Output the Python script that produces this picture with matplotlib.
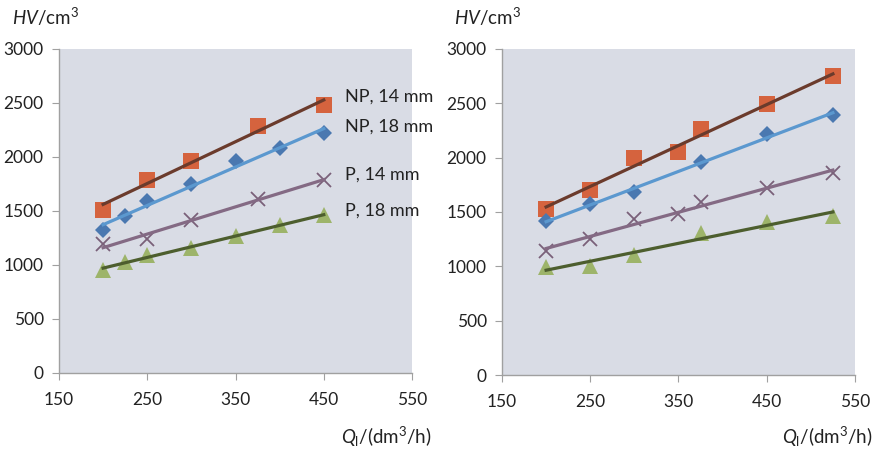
import numpy as np
import matplotlib
matplotlib.use("Agg")
import matplotlib.pyplot as plt

plt.rcParams['font.family'] = ['Lato', 'DejaVu Sans']
plt.rcParams['mathtext.fontset'] = 'custom'
plt.rcParams['mathtext.rm'] = 'Lato'
plt.rcParams['mathtext.it'] = 'Lato:italic'

# Left panel data
L_np14_x = [200, 250, 300, 375, 450]
L_np14_y = [1510, 1790, 1960, 2290, 2480]
L_np18_x = [200, 225, 250, 300, 350, 400, 450]
L_np18_y = [1320, 1450, 1590, 1750, 1960, 2080, 2220]
L_p14_x = [200, 250, 300, 375, 450]
L_p14_y = [1190, 1240, 1420, 1610, 1790]
L_p18_x = [200, 225, 250, 300, 350, 400, 450]
L_p18_y = [950, 1030, 1090, 1160, 1270, 1370, 1460]

# Right panel data
R_np14_x = [200, 250, 300, 350, 375, 450, 525]
R_np14_y = [1530, 1700, 2000, 2050, 2260, 2490, 2750]
R_np18_x = [200, 250, 300, 375, 450, 525]
R_np18_y = [1420, 1570, 1680, 1960, 2220, 2390]
R_p14_x = [200, 250, 300, 350, 375, 450, 525]
R_p14_y = [1140, 1250, 1440, 1480, 1590, 1720, 1860]
R_p18_x = [200, 250, 300, 375, 450, 525]
R_p18_y = [990, 1000, 1100, 1310, 1410, 1460]

series_names = ["NP, 14 mm", "NP, 18 mm", "P, 14 mm", "P, 18 mm"]
label_y = [2555, 2278, 1833, 1500]

styles = [
    dict(marker='s', color='#D5633E', line='#6B3B2C', ms=11, mew=0),
    dict(marker='D', color='#4A78B0', line='#5B98CF', ms=8, mew=0),
    dict(marker='x', color='#7A6079', line='#846A84', ms=10, mew=1.3),
    dict(marker='^', color='#9DB46A', line='#4D5E2E', ms=11, mew=0),
]

fig = plt.figure(figsize=(8.75, 4.49), dpi=100)
axL = fig.add_axes([0.0674, 0.1693, 0.4035, 0.7216])
axR = fig.add_axes([0.5737, 0.1648, 0.4034, 0.7261])

left_data = [(L_np14_x, L_np14_y), (L_np18_x, L_np18_y), (L_p14_x, L_p14_y), (L_p18_x, L_p18_y)]
right_data = [(R_np14_x, R_np14_y), (R_np18_x, R_np18_y), (R_p14_x, R_p14_y), (R_p18_x, R_p18_y)]

for ax, data in [(axL, left_data), (axR, right_data)]:
    ax.set_facecolor('#D9DCE5')
    for (x, y), st in zip(data, styles):
        x = np.array(x, float); y = np.array(y, float)
        ax.plot(x, y, linestyle='none', marker=st['marker'], color=st['color'],
                ms=st['ms'], mew=st['mew'], zorder=3)
        k, b = np.polyfit(x, y, 1)
        xs = np.array([x.min(), x.max()])
        ax.plot(xs, k * xs + b, color=st['line'], lw=2.3, zorder=4)
    ax.set_xlim(150, 550)
    ax.set_ylim(0, 3000)
    ax.set_xticks([150, 250, 350, 450, 550])
    ax.set_yticks(range(0, 3001, 500))
    for s in ['top', 'right']:
        ax.spines[s].set_visible(False)
    for s in ['left', 'bottom']:
        ax.spines[s].set_color('#A0A0A0')
        ax.spines[s].set_linewidth(1.0)
    ax.tick_params(direction='out', length=5, color='#A0A0A0', labelsize=12.5,
                   labelcolor='#222222', pad=6)
    ax.tick_params(axis='x', pad=9)

for name, yy in zip(series_names, label_y):
    axL.text(474, yy, name, fontsize=13, color='#222222', va='center', ha='left',
             clip_on=False)

fig.text(0.014, 0.962, r'$HV$/cm$^3$', fontsize=13.5, color='#222222', va='center', ha='left')
fig.text(0.519, 0.962, r'$HV$/cm$^3$', fontsize=13.5, color='#222222', va='center', ha='left')
fig.text(0.493, 0.027, r'$Q_\mathrm{l}$/(dm$^3$/h)', fontsize=13.5, color='#222222', va='center', ha='right')
fig.text(0.997, 0.027, r'$Q_\mathrm{l}$/(dm$^3$/h)', fontsize=13.5, color='#222222', va='center', ha='right')

fig.savefig('out.png', dpi=100, facecolor='white')
